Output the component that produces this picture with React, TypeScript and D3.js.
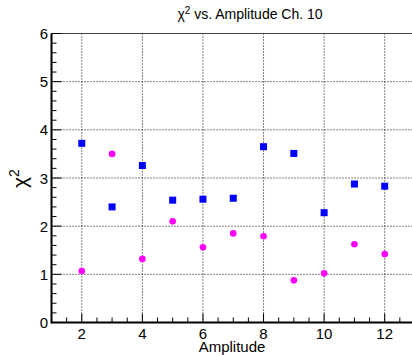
import React from "react";
import * as d3 from "d3";

const amplitudes = [2, 3, 4, 5, 6, 7, 8, 9, 10, 11, 12];
const chi2Blue = [3.72, 2.4, 3.26, 2.54, 2.56, 2.58, 3.65, 3.51, 2.28, 2.875, 2.83];
const chi2Magenta = [1.07, 3.5, 1.32, 2.1, 1.56, 1.85, 1.79, 0.875, 1.02, 1.625, 1.42];
const xTicks = [2, 4, 6, 8, 10, 12];
const yTicks = [0, 1, 2, 3, 4, 5, 6];

const W = 412;
const H = 355;
const FONT = "'Liberation Sans', Arial, Helvetica, sans-serif";

export default function App() {
  const x = d3.scaleLinear().domain([1, 13]).range([51.5, 415]);
  const y = d3.scaleLinear().domain([0, 6]).range([322.5, 33.5]);

  const xMinor = d3.range(1.5, 13, 0.5).filter((v) => v % 2 !== 0);
  const yMinor = d3.range(0, 6.001, 0.2).map((v) => +v.toFixed(2)).filter((v) => Math.abs(v - Math.round(v)) > 1e-6);

  return (
    <div style={{ position: "fixed", left: 0, top: 0 }}>
      <svg width={W} height={H} style={{ display: "block", background: "#fff" }}>
        {/* grid */}
        {xTicks.map((t) => (
          <line key={"gx" + t} x1={x(t)} x2={x(t)} y1={y(6)} y2={y(0)} stroke="#000" strokeWidth={1} strokeDasharray="1,2" />
        ))}
        {yTicks.filter((t) => t > 0 && t < 6).map((t) => (
          <line key={"gy" + t} x1={x(1)} x2={x(13)} y1={y(t)} y2={y(t)} stroke="#000" strokeWidth={1} strokeDasharray="1,2" />
        ))}
        {/* frame top */}
        <line x1={x(1)} x2={x(13)} y1={y(6)} y2={y(6)} stroke="#444" strokeWidth={1.2} />
        {/* axes */}
        <line x1={x(1)} x2={x(13)} y1={y(0)} y2={y(0)} stroke="#000" strokeWidth={2} />
        <line x1={x(1)} x2={x(1)} y1={y(0) + 1} y2={y(6)} stroke="#000" strokeWidth={2} />
        {/* x ticks */}
        {xTicks.map((t) => (
          <line key={"xt" + t} x1={x(t)} x2={x(t)} y1={y(0)} y2={y(0) - 9} stroke="#000" strokeWidth={1} />
        ))}
        {xMinor.map((t) => (
          <line key={"xm" + t} x1={x(t)} x2={x(t)} y1={y(0)} y2={y(0) - 5} stroke="#000" strokeWidth={1} />
        ))}
        {/* y ticks */}
        {yTicks.map((t) => (
          <line key={"yt" + t} x1={x(1)} x2={x(1) + 10} y1={y(t)} y2={y(t)} stroke="#000" strokeWidth={1} />
        ))}
        {yMinor.map((t) => (
          <line key={"ym" + t} x1={x(1)} x2={x(1) + 5} y1={y(t)} y2={y(t)} stroke="#000" strokeWidth={1} />
        ))}
        {/* tick labels */}
        {xTicks.map((t) => (
          <text key={"xl" + t} x={x(t)} y={338.5} textAnchor="middle" fontFamily={FONT} fontSize={15} fill="#000">
            {t}
          </text>
        ))}
        {yTicks.map((t) => (
          <text key={"yl" + t} x={48} y={y(t) + 5.5} textAnchor="end" fontFamily={FONT} fontSize={15} fill="#000">
            {t}
          </text>
        ))}
        {/* data */}
        {amplitudes.map((a, i) => (
          <circle key={"m" + i} cx={x(a)} cy={y(chi2Magenta[i])} r={3.3} fill="#ff00ff" />
        ))}
        {amplitudes.map((a, i) => (
          <rect key={"b" + i} x={x(a) - 3.5} y={y(chi2Blue[i]) - 3.5} width={7} height={7} fill="#0000ff" />
        ))}
        {/* titles */}
        <text x={250} y={19} textAnchor="middle" fontFamily={FONT} fontSize={14} fill="#000">
          χ<tspan dy={-5} fontSize={10}>2</tspan>
          <tspan dy={5}> vs. Amplitude Ch. 10</tspan>
        </text>
        <text x={232} y={352} textAnchor="middle" fontFamily={FONT} fontSize={15} fill="#000">
          Amplitude
        </text>
        <text transform="translate(27,188) rotate(-90)" textAnchor="start" fontFamily={FONT} fontSize={21} fill="#000">
          χ<tspan dy={-8} fontSize={14}>2</tspan>
        </text>
      </svg>
    </div>
  );
}
